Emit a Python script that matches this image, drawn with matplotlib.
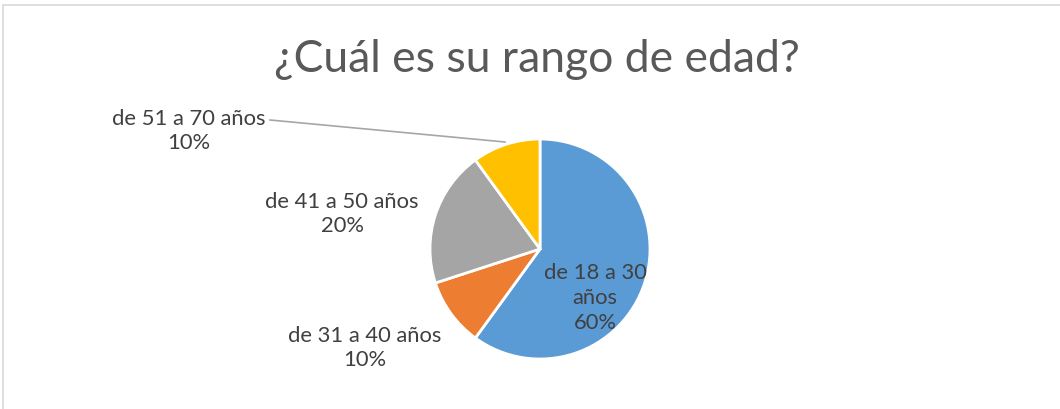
import matplotlib.pyplot as plt
from matplotlib.patches import Rectangle

plt.rcParams['font.family'] = ['Lato', 'DejaVu Sans']

categories = ["de 18 a 30 años", "de 31 a 40 años", "de 41 a 50 años", "de 51 a 70 años"]
shares = [60, 10, 20, 10]
colors = ["#5B9BD5", "#ED7D31", "#A5A5A5", "#FFC000"]
title = "¿Cuál es su rango de edad?"

W, H = 1060, 409
fig = plt.figure(figsize=(W / 100, H / 100), dpi=100)
ax = fig.add_axes([0, 0, 1, 1])

ax.pie(shares, colors=colors, startangle=90, counterclock=False,
       center=(540, H - 249), radius=110,
       wedgeprops=dict(edgecolor="white", linewidth=2))

# pie() resets the view, so fix the pixel-like frame afterwards
ax.set_xlim(0, W)
ax.set_ylim(0, H)
ax.set_aspect("equal")
ax.axis("off")

# chart frame
ax.add_patch(Rectangle((2.5, -5), W + 10, H - 4.5 + 5, fill=False,
                       edgecolor="#D9D9D9", linewidth=1.2))

ax.text(537, H - 60, title, ha="center", va="center", fontsize=32, color="#595959")

lab_color = "#404040"
fs = 15.8
# label positions (pixel coords of the reference)
label_pos = [(595, 298), (365, 348), (342, 214), (189, 131)]
texts = ["de 18 a 30\naños\n" + f"{shares[0]}%",
         f"{categories[1]}\n{shares[1]}%",
         f"{categories[2]}\n{shares[2]}%",
         f"{categories[3]}\n{shares[3]}%"]
for (x, y), t in zip(label_pos, texts):
    ax.text(x, H - y, t, ha="center", va="center", fontsize=fs,
            color=lab_color, linespacing=1.3)

# leader line for the small slice
ax.plot([270, 505], [H - 120, H - 142], color="#A6A6A6", linewidth=1.2)

fig.savefig("out.png", dpi=100)
